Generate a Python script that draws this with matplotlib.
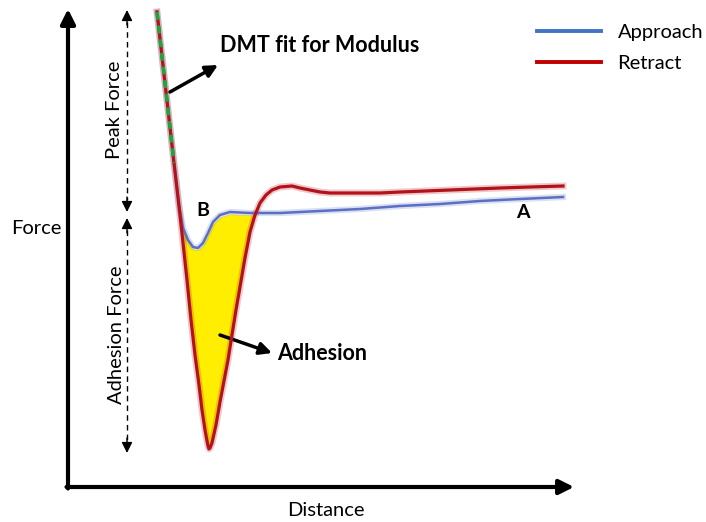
import numpy as np
import matplotlib.pyplot as plt
from matplotlib.lines import Line2D

plt.rcParams['font.family'] = ['Lato', 'DejaVu Sans']

# retract curve (distance, force) in arbitrary units
retract_d = [89, 106, 108, 112, 115, 119, 123, 127, 131, 134, 137, 139, 140, 141, 142, 144, 148, 152,
             156, 160, 164, 168, 172, 177, 182, 187, 192, 198, 204, 212, 224,
             232, 242, 252, 262, 277, 292, 312, 332, 357, 382, 407, 432, 462, 495]
retract_f = [475, 324, 307, 272, 244, 207, 167, 132, 102, 77, 57, 46, 41, 38, 39, 44, 62, 85,
             106, 127, 152, 177, 200, 229, 255, 272, 284, 292, 297, 300, 301,
             299, 297, 295, 294, 294, 294, 294, 295, 296, 297, 298, 299, 300, 301]

# approach curve
approach_d = [89, 106, 108, 111, 115, 120, 125, 130, 135, 140, 145, 152, 162, 182, 212,
              252, 292, 332, 372, 412, 452, 495]
approach_f = [475, 324, 307, 282, 259, 247, 240, 239, 244, 254, 265, 272, 275, 274, 274,
              276, 278, 281, 283, 286, 288, 290]

# linear DMT fit segment
dmt_d = [89, 106]
dmt_f = [475, 324]

fig = plt.figure(figsize=(7.06, 5.22), dpi=100)
ax = fig.add_axes([0, 0, 1, 1])
ax.set_xlim(-68, 638)
ax.set_ylim(-35, 487)
ax.axis('off')

blue = '#5b6fc4'
red = '#b3121b'

# adhesion area between the two curves
grid = np.linspace(111, 190, 400)
r = np.interp(grid, retract_d, retract_f)
a = np.interp(grid, approach_d, approach_f)
ax.fill_between(grid, r + 2, a - 2, where=r < a, color='#ffee00', lw=0, zorder=1)

# soft halo under the curves
ax.plot(approach_d, approach_f, color=blue, lw=4.5, alpha=0.22, solid_joinstyle='round', zorder=2)
ax.plot(retract_d, retract_f, color=red, lw=5, alpha=0.22, solid_joinstyle='round', zorder=2)
ax.plot(approach_d, approach_f, color=blue, lw=1.8, solid_joinstyle='round', zorder=3)
ax.plot(retract_d, retract_f, color=red, lw=2.3, solid_joinstyle='round', zorder=4)
ax.plot(dmt_d, dmt_f, color='#22a33a', lw=2.6, ls=(0, (2.2, 1.6)), zorder=5)

# axes arrows
arrow_kw = dict(arrowstyle='-|>', lw=3, color='k', mutation_scale=22, shrinkA=0, shrinkB=0)
ax.annotate('', xy=(0, 478), xytext=(0, -1.5), arrowprops=arrow_kw)
ax.annotate('', xy=(506, 0), xytext=(-1.5, 0), arrowprops=arrow_kw)
ax.text(-32, 259, 'Force', fontsize=14.5, ha='center', va='center')
ax.text(258, -24, 'Distance', fontsize=14.5, ha='center', va='center')

# peak force / adhesion force brackets
head_kw = dict(arrowstyle='-|>', lw=1, color='k', mutation_scale=16, shrinkA=0, shrinkB=0)
ax.plot([59, 59], [465, 287], color='k', lw=1, ls=(0, (4, 3)))
ax.annotate('', xy=(59, 477), xytext=(59, 462), arrowprops=head_kw)
ax.annotate('', xy=(59, 275), xytext=(59, 290), arrowprops=head_kw)
ax.plot([59, 59], [257, 46], color='k', lw=1, ls=(0, (4, 3)))
ax.annotate('', xy=(59, 269), xytext=(59, 254), arrowprops=head_kw)
ax.annotate('', xy=(59, 34), xytext=(59, 49), arrowprops=head_kw)
ax.text(47, 377, 'Peak Force', fontsize=14.5, rotation=90, ha='center', va='center')
ax.text(49, 152, 'Adhesion Force', fontsize=14.5, rotation=90, ha='center', va='center')

# callouts
call_kw = dict(arrowstyle='-|>', lw=2.5, color='k', mutation_scale=18, shrinkA=0, shrinkB=0)
ax.annotate('', xy=(150, 422), xytext=(102, 395), arrowprops=call_kw)
ax.text(152, 442, 'DMT fit for Modulus', fontsize=15.5, fontweight='bold', ha='left', va='center')
ax.annotate('', xy=(204, 134), xytext=(152, 152), arrowprops=call_kw)
ax.text(209, 134, 'Adhesion', fontsize=15.5, fontweight='bold', ha='left', va='center')
ax.text(135, 277, 'B', fontsize=14, fontweight='bold', ha='center', va='center')
ax.text(455, 275, 'A', fontsize=14, fontweight='bold', ha='center', va='center')

handles = [Line2D([], [], color='#4472c4', lw=2.8), Line2D([], [], color='#c00000', lw=2.8)]
ax.legend(handles, ['Approach', 'Retract'], loc='upper left', bbox_to_anchor=(0.735, 0.988),
          frameon=False, fontsize=14.5, handlelength=3.2, handletextpad=0.8, labelspacing=0.65)

fig.savefig('out.png', dpi=100)
